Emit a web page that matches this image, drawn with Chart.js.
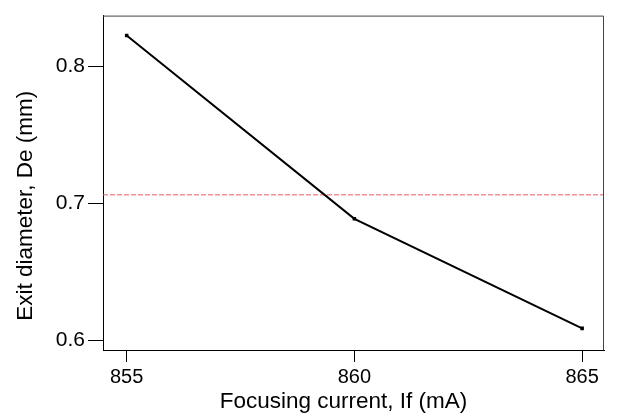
<!DOCTYPE html>
<html>
<head>
<meta charset="utf-8">
<script src="https://cdn.jsdelivr.net/npm/chart.js@4/dist/chart.umd.min.js"></script>
<style>
  html, body { margin: 0; padding: 0; background: #fff; }
  #wrap { width: 619px; height: 414px; }
</style>
</head>
<body>
<div id="wrap"><canvas id="chart" width="619" height="414"></canvas></div>
<script>
// values
const currents = [855, 860, 865];           // If (mA)
const diameters = [0.8225, 0.6886, 0.6085]; // De (mm)
const threshold = 0.7061;                   // red dashed reference
const xTicks = [855, 860, 865];
const yTicks = [0.6, 0.7, 0.8];
const xRange = [854.48, 865.48];
const yRange = [0.5927, 0.8371];
const xTitle = "Focusing current, If (mA)";
const yTitle = "Exit diameter, De (mm)";

const FONT = "'Liberation Sans', Arial, sans-serif";
Chart.defaults.font.family = FONT;
Chart.defaults.color = "#000";

// box on top/right plus the two axis titles (placed like the original, a bit off-centre)
const frame = {
    id: "frame",
    afterDraw(chart) {
        const { ctx, chartArea: a } = chart;
        ctx.save();
        ctx.strokeStyle = "#444";
        ctx.lineWidth = 1;
        ctx.beginPath();
        ctx.moveTo(a.left, a.top + 0.5);
        ctx.lineTo(a.right - 0.5, a.top + 0.5);
        ctx.lineTo(a.right - 0.5, a.bottom);
        ctx.stroke();

        ctx.fillStyle = "#000";
        ctx.font = `22.5px ${FONT}`;
        ctx.textAlign = "center";
        ctx.textBaseline = "alphabetic";
        ctx.fillText(xTitle, (a.left + a.right) / 2 - 10, 408);
        ctx.translate(32, (a.top + a.bottom) / 2 + 23);
        ctx.rotate(-Math.PI / 2);
        ctx.fillText(yTitle, 0, 0);
        ctx.restore();
    },
};

new Chart(document.getElementById("chart"), {
    type: "scatter",
    data: {
        datasets: [
            {
                data: currents.map((x, i) => ({ x, y: diameters[i] })),
                showLine: true,
                borderColor: "#000",
                borderWidth: 2,
                pointStyle: "rect",
                pointRadius: 2.5,
                pointBackgroundColor: "#000",
                pointBorderWidth: 0,
                order: 1,
            },
            {
                data: xRange.map(x => ({ x, y: threshold })),
                showLine: true,
                borderColor: "#ee5a64",
                borderWidth: 1,
                borderDash: [5, 2],
                pointRadius: 0,
                order: 2,
            },
        ],
    },
    options: {
        responsive: false,
        animation: false,
        events: [],
        layout: { padding: { top: 14, right: 15, left: 0, bottom: 0 } },
        plugins: { legend: { display: false }, tooltip: { enabled: false } },
        scales: {
            x: {
                type: "linear",
                min: xRange[0],
                max: xRange[1],
                afterBuildTicks: s => { s.ticks = xTicks.map(v => ({ value: v })); },
                afterFit: s => { s.height = 64; },
                border: { color: "#000", width: 1 },
                grid: { drawOnChartArea: false, tickLength: 12, tickColor: "#000" },
                ticks: { font: { size: 20 }, padding: 3, maxRotation: 0 },
            },
            y: {
                min: yRange[0],
                max: yRange[1],
                afterBuildTicks: s => { s.ticks = yTicks.map(v => ({ value: v })); },
                afterFit: s => { s.width = 103; },
                border: { color: "#000", width: 1 },
                grid: { drawOnChartArea: false, tickLength: 15, tickColor: "#000" },
                ticks: { font: { size: 21 }, padding: 3, callback: v => v.toFixed(1) },
            },
        },
    },
    plugins: [frame],
});
</script>
</body>
</html>
